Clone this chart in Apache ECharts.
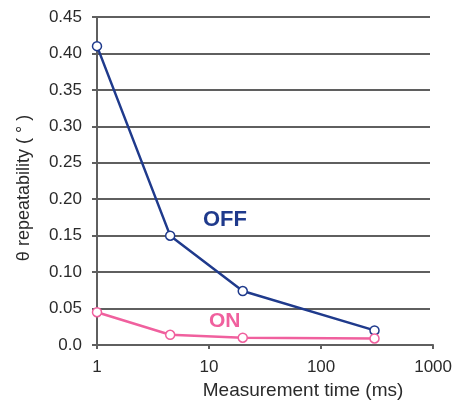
<!DOCTYPE html>
<html>
<head>
<meta charset="utf-8">
<script src="https://cdn.jsdelivr.net/npm/echarts@6/dist/echarts.min.js"></script>
<style>
html,body{margin:0;padding:0;background:#fff;}
#c{width:455px;height:405px;}
</style>
</head>
<body>
<div id="c"></div>
<script>
const timesMs = [1, 4.5, 20, 300];
const offValues = [0.41, 0.15, 0.074, 0.02];
const onValues = [0.045, 0.014, 0.010, 0.009];
const xTickLabels = ['1', '10', '100', '1000'];
const seriesNames = ['OFF', 'ON'];

const FONT = "'Liberation Sans', Arial, Helvetica, sans-serif";
const BLUE = '#1f3a8c';
const PINK = '#f0609e';
const AXIS = '#5f5f5f';
const TXT = '#2a2a2a';

const chart = echarts.init(document.getElementById('c'), null, {renderer: 'canvas'});

const option = {
  animation: false,
  backgroundColor: '#fff',
  grid: [
    {left: 97, right: 19, top: 17, bottom: 60},
    {left: 97, right: 25, top: 17, bottom: 60}
  ],
  xAxis: [{
    type: 'log',
    logBase: 10,
    min: 1,
    max: 1000,
    gridIndex: 0,
    name: 'Measurement time (ms)',
    nameLocation: 'middle',
    nameGap: 36,
    nameTextStyle: {fontFamily: FONT, fontSize: 19, color: TXT, padding: [0, 0, 0, 76]},
    axisLine: {show: true, onZero: false, lineStyle: {color: AXIS, width: 2}},
    axisTick: {show: true, length: 4, lineStyle: {color: AXIS, width: 2}},
    minorTick: {show: false},
    splitLine: {show: false},
    axisLabel: {
      fontFamily: FONT, fontSize: 17, color: TXT, margin: 14,
      formatter: function (v) {
        const i = Math.round(Math.log10(v));
        return xTickLabels[i] !== undefined ? xTickLabels[i] : '';
      }
    }
  }, {
    type: 'value', gridIndex: 1, min: 0, max: 1, show: false
  }],
  yAxis: [{
    type: 'value',
    gridIndex: 0,
    min: 0,
    max: 0.45,
    interval: 0.05,
    name: 'θ repeatability ( ° )',
    nameLocation: 'middle',
    nameRotate: 90,
    nameGap: 64,
    nameTextStyle: {fontFamily: FONT, fontSize: 18, color: TXT, padding: [0, 14, 0, 0]},
    axisLine: {show: true, lineStyle: {color: AXIS, width: 2}},
    axisTick: {show: true, length: 5, lineStyle: {color: AXIS, width: 2}},
    splitLine: {show: false},
    axisLabel: {
      fontFamily: FONT, fontSize: 17, color: TXT, margin: 15,
      formatter: function (v) { return v === 0 ? '0.0' : v.toFixed(2); }
    }
  }, {
    type: 'value',
    gridIndex: 1,
    min: 0,
    max: 0.45,
    interval: 0.05,
    axisLine: {show: false},
    axisTick: {show: false},
    axisLabel: {show: false},
    splitLine: {show: true, lineStyle: {color: AXIS, width: 2}}
  }],
  series: [{
    name: seriesNames[0],
    type: 'line',
    xAxisIndex: 0, yAxisIndex: 0,
    data: timesMs.map((t, i) => [t, offValues[i]]),
    symbol: 'circle',
    symbolSize: 9,
    showAllSymbol: true,
    lineStyle: {color: BLUE, width: 2.5},
    itemStyle: {color: '#fff', borderColor: BLUE, borderWidth: 1.5},
    z: 3
  }, {
    name: seriesNames[1],
    type: 'line',
    xAxisIndex: 0, yAxisIndex: 0,
    data: timesMs.map((t, i) => [t, onValues[i]]),
    symbol: 'circle',
    symbolSize: 9,
    showAllSymbol: true,
    lineStyle: {color: PINK, width: 2.5},
    itemStyle: {color: '#fff', borderColor: PINK, borderWidth: 1.5},
    z: 4
  }],
  graphic: [{
    type: 'text',
    left: 203, top: 209,
    style: {text: seriesNames[0], fill: BLUE, font: 'bold 22px ' + FONT}
  }, {
    type: 'text',
    left: 209, top: 311,
    style: {text: seriesNames[1], fill: PINK, font: 'bold 21px ' + FONT}
  }]
};
chart.setOption(option);
</script>
</body>
</html>
